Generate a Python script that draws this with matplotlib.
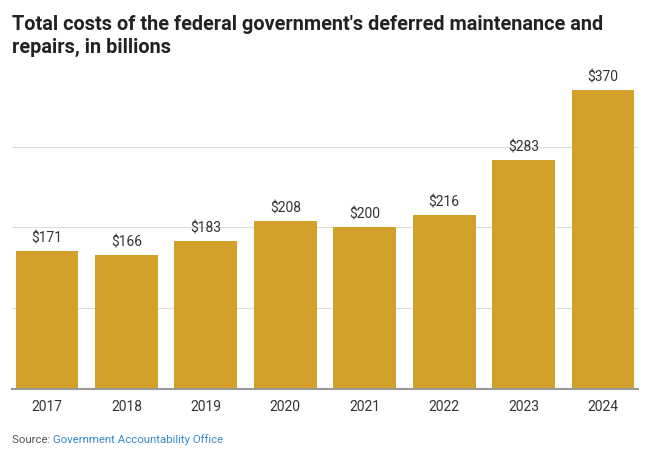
import matplotlib
matplotlib.use("Agg")
import matplotlib.pyplot as plt

years = ["2017", "2018", "2019", "2020", "2021", "2022", "2023", "2024"]
costs = [171, 166, 183, 208, 200, 216, 283, 370]
grid_vals = [100, 200, 300]

plt.rcParams['font.family'] = ['Roboto', 'DejaVu Sans']

W, H = 658, 460
fig = plt.figure(figsize=(W/100, H/100), dpi=100)
ax = fig.add_axes([12/W, (H-390)/H, (638-12)/W, (390-75)/H])

x = list(range(len(years)))
ax.bar(x, costs, width=0.79, color="#D4A02C", zorder=2)
for xi, v in zip(x, costs):
    ax.text(xi, v + 8, f"${v}", ha="center", va="bottom", fontsize=10, color="#333333")

ax.set_xlim(-0.44, 7.44)
ax.set_ylim(0, 390)
ax.set_yticks(grid_vals)
ax.yaxis.grid(True, color="#dddddd", linewidth=0.8, zorder=0)
ax.tick_params(axis="y", left=False, labelleft=False)
ax.set_xticks(x)
ax.set_xticklabels(years, fontsize=10, color="#333333")
ax.tick_params(axis="x", length=0, pad=7)
for s in ["top", "right", "left"]:
    ax.spines[s].set_visible(False)
ax.spines["bottom"].set_color("#999999")
ax.spines["bottom"].set_linewidth(1.5)
ax.spines["bottom"].set_zorder(3)

fig.text(12/W, 1 - 30/H, "Total costs of the federal government's deferred maintenance and",
         ha="left", va="baseline", fontsize=14.3, fontweight="bold", color="#222222")
fig.text(12/W, 1 - 53/H, "repairs, in billions",
         ha="left", va="baseline", fontsize=14.3, fontweight="bold", color="#222222")

t = fig.text(12/W, 1 - 440/H, "Source: ", ha="left", va="center", fontsize=8.2, color="#555555")
fig.canvas.draw()
bb = t.get_window_extent()
fig.text(bb.x1/W, 1 - 440/H, "Government Accountability Office", ha="left", va="center", fontsize=8.2, color="#3a87c8")

fig.savefig("out.png", dpi=100)
